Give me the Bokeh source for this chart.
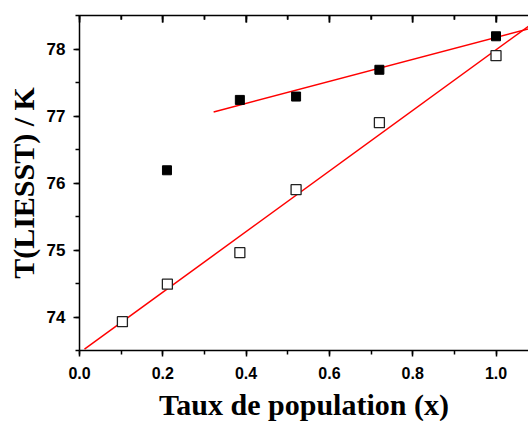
from bokeh.plotting import figure
from bokeh.models import LinearAxis, Range1d, SingleIntervalTicker, NumeralTickFormatter
from bokeh.embed import file_html
from bokeh.resources import INLINE

# Data
x_filled = [0.21, 0.385, 0.52, 0.72, 1.0]
y_filled = [76.19, 77.24, 77.29, 77.69, 78.19]
x_open = [0.103, 0.211, 0.385, 0.52, 0.72, 1.0]
y_open = [73.93, 74.49, 74.96, 75.9, 76.9, 77.9]
# linear fits (endpoints)
fit_filled_x = [0.322, 1.078]
fit_filled_y = [77.06, 78.30]
fit_open_x = [0.012, 1.078]
fit_open_y = [73.52, 78.34]

# tick values of the top (mirror) axis
top_major_ticks = [0.0, 0.2, 0.4, 0.6, 0.8, 1.0]
top_minor_ticks = [0.1, 0.3, 0.5, 0.7, 0.9]

X_MIN, X_MAX = 0.0, 1.078
Y_MIN, Y_MAX = 73.5, 78.5
TOP_MAJOR_LEN = 0.105   # inward tick length (y data units, ~7 px)
TOP_MINOR_LEN = 0.065   # (~4 px)

p = figure(frame_width=449, frame_height=335, x_range=Range1d(X_MIN, X_MAX), y_range=Range1d(Y_MIN, Y_MAX),
           output_backend="svg", toolbar_location=None,
           min_border_left=79, min_border_right=0, min_border_top=15, min_border_bottom=71)
p.xgrid.visible = False
p.ygrid.visible = False
p.outline_line_color = None
p.background_fill_color = "white"
p.border_fill_color = "white"

label_font = "Liberation Sans"
title_font = "Liberation Serif"

xa = p.xaxis[0]
xa.ticker = SingleIntervalTicker(interval=0.2, num_minor_ticks=2)
xa.formatter = NumeralTickFormatter(format="0.0")
ya = p.yaxis[0]
ya.ticker = SingleIntervalTicker(interval=1, num_minor_ticks=2)
for ax in (xa, ya):
    ax.axis_line_color = "black"
    ax.axis_line_width = 1.5
    ax.major_tick_line_color = "black"
    ax.major_tick_line_width = 1.5
    ax.minor_tick_line_color = "black"
    ax.minor_tick_line_width = 1.5
    ax.major_tick_in = 0
    ax.major_tick_out = 6
    ax.minor_tick_in = 0
    ax.minor_tick_out = 4
    ax.major_label_text_font = label_font
    ax.major_label_text_font_style = "bold"
    ax.major_label_text_color = "black"
    ax.axis_label_text_font = title_font
    ax.axis_label_text_font_style = "bold"
    ax.axis_label_text_color = "black"
xa.major_label_text_font_size = "16px"
ya.major_label_text_font_size = "17px"
xa.axis_label_text_font_size = "30px"
ya.axis_label_text_font_size = "30px"
xa.axis_label = "Taux de population (x)"
ya.axis_label = "T(LIESST) / K"
xa.major_label_standoff = 10
ya.major_label_standoff = 8
xa.axis_label_standoff = 6
ya.axis_label_standoff = 4

# top mirror axis: inward ticks, labels not drawn
top = LinearAxis(ticker=SingleIntervalTicker(interval=0.2, num_minor_ticks=2))
top.axis_line_color = "black"
top.axis_line_width = 1.5
top.major_tick_line_color = "black"
top.major_tick_line_width = 1.5
top.minor_tick_line_color = "black"
top.minor_tick_line_width = 1.5
top.major_tick_in = 7
top.major_tick_out = 0
top.minor_tick_in = 4
top.minor_tick_out = 0
top.major_label_text_font_size = "1px"
top.major_label_text_color = None
top.major_label_standoff = 0
p.add_layout(top, "above")

# the same inward top ticks as glyphs, drawn downward from the top edge
p.segment(x0=top_major_ticks, y0=[Y_MAX] * len(top_major_ticks),
          x1=top_major_ticks, y1=[Y_MAX - TOP_MAJOR_LEN] * len(top_major_ticks),
          line_color="black", line_width=1.5)
p.segment(x0=top_minor_ticks, y0=[Y_MAX] * len(top_minor_ticks),
          x1=top_minor_ticks, y1=[Y_MAX - TOP_MINOR_LEN] * len(top_minor_ticks),
          line_color="black", line_width=1.5)

p.line(fit_filled_x, fit_filled_y, line_color="red", line_width=1.5)
p.line(fit_open_x, fit_open_y, line_color="red", line_width=1.5)
p.scatter(x_filled, y_filled, marker="square", size=9, fill_color="black", line_color="black")
p.scatter(x_open, y_open, marker="square", size=10, fill_color="white", line_color="#222222", line_width=1.3)

open("out.html", "w").write(file_html(p, INLINE))
